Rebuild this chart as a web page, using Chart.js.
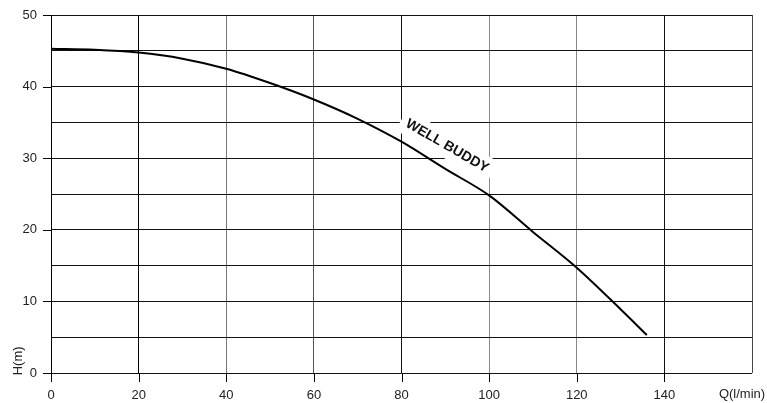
<!DOCTYPE html>
<html>
<head>
<meta charset="utf-8">
<script src="https://cdn.jsdelivr.net/npm/chart.js@4/dist/chart.umd.min.js"></script>
<style>
  html, body { margin: 0; padding: 0; background: #fff; }
  #wrap { width: 767px; height: 403px; position: relative; }
</style>
</head>
<body>
<div id="wrap"><canvas id="c" width="767" height="403"></canvas></div>
<script>
// ---- data ----
const flowQ = [0, 10, 20, 30, 40, 50, 60, 70, 80, 90, 100, 110, 120, 130, 136];
const headH = [45.3, 45.15, 44.75, 43.9, 42.5, 40.5, 38.2, 35.5, 32.3, 28.5, 24.8, 19.7, 14.7, 8.9, 5.3];
const xTickLabels = [0, 20, 40, 60, 80, 100, 120, 140];
const yTickLabels = [0, 10, 20, 30, 40, 50];
const curveName = 'WELL BUDDY';
const xTitle = 'Q(l/min)';
const yTitle = 'H(m)';

const points = flowQ.map((q, i) => ({ x: q, y: headH[i] }));
const xGridColors = { 0: '#000', 20: '#000', 40: '#777', 60: '#555', 80: '#111', 100: '#888', 120: '#888', 140: '#111', 160: '#444' };

const labelsPlugin = {
  id: 'labelsPlugin',
  afterDraw(chart) {
    const ctx = chart.ctx;
    const xs = chart.scales.x, ys = chart.scales.y;
    const area = chart.chartArea;
    ctx.save();
    // axis tick marks
    ctx.fillStyle = '#000';
    xTickLabels.forEach(v => {
      const px = Math.round(xs.getPixelForValue(v));
      ctx.fillRect(px, Math.round(area.bottom), 1, 9);
    });
    yTickLabels.forEach(v => {
      const py = Math.round(ys.getPixelForValue(v));
      ctx.fillRect(Math.round(area.left) - 8, py, 9, 1);
    });

    ctx.fillStyle = '#222';
    ctx.font = '13px "Liberation Sans", Arial, sans-serif';
    // y title
    ctx.save();
    ctx.translate(18, ys.getPixelForValue(1.7));
    ctx.rotate(-Math.PI / 2);
    ctx.textAlign = 'center';
    ctx.textBaseline = 'middle';
    ctx.fillText(yTitle, 0, 0);
    ctx.restore();
    // x title
    ctx.textAlign = 'center';
    ctx.textBaseline = 'middle';
    ctx.fillText(xTitle, xs.getPixelForValue(160) - 10, 394);
    // curve name
    const cx = xs.getPixelForValue(90.4), cy = ys.getPixelForValue(31.7);
    ctx.translate(cx, cy);
    ctx.rotate(30 * Math.PI / 180);
    ctx.font = 'bold 14px "Liberation Sans", Arial, sans-serif';
    const w = ctx.measureText(curveName).width;
    ctx.fillStyle = '#fff';
    ctx.fillRect(-w / 2 - 6, -12, w + 12, 24);
    ctx.fillStyle = '#111';
    ctx.textAlign = 'center';
    ctx.textBaseline = 'middle';
    ctx.fillText(curveName, 0, 0);
    ctx.restore();
  }
};

new Chart(document.getElementById('c'), {
  type: 'line',
  data: {
    datasets: [{
      data: points,
      borderColor: '#000',
      borderWidth: 2,
      pointRadius: 0,
      fill: false,
      cubicInterpolationMode: 'monotone'
    }]
  },
  options: {
    responsive: false,
    animation: false,
    layout: { padding: { top: 15, right: 15, left: 0, bottom: 0 } },
    plugins: { legend: { display: false }, tooltip: { enabled: false } },
    scales: {
      x: {
        type: 'linear',
        min: 0, max: 160,
        afterFit(s) { s.height = 30; },
        afterBuildTicks(s) { s.ticks = xTickLabels.concat([160]).map(v => ({ value: v })); },
        ticks: {
          autoSkip: false, maxRotation: 0,
          color: '#222',
          font: { family: '"Liberation Sans", Arial, sans-serif', size: 13 },
          padding: 7,
          callback: (v) => xTickLabels.includes(v) ? String(v) : ''
        },
        grid: {
          color: (c) => xGridColors[c.tick ? c.tick.value : 0] || '#111',
          tickColor: 'rgba(0,0,0,0)',
          tickLength: 8,
          lineWidth: 1
        },
        border: { display: false }
      },
      y: {
        type: 'linear',
        min: 0, max: 50,
        afterFit(s) { s.width = 51; },
        afterBuildTicks(s) {
          const t = [];
          for (let v = 0; v <= 50; v += 5) t.push({ value: v });
          s.ticks = t;
        },
        ticks: {
          autoSkip: false,
          color: '#222',
          font: { family: '"Liberation Sans", Arial, sans-serif', size: 13 },
          padding: 6,
          callback: (v) => yTickLabels.includes(v) ? String(v) : ''
        },
        grid: {
          color: '#111',
          tickColor: 'rgba(0,0,0,0)',
          tickLength: 8,
          lineWidth: 1
        },
        border: { display: false }
      }
    }
  },
  plugins: [labelsPlugin]
});
</script>
</body>
</html>
